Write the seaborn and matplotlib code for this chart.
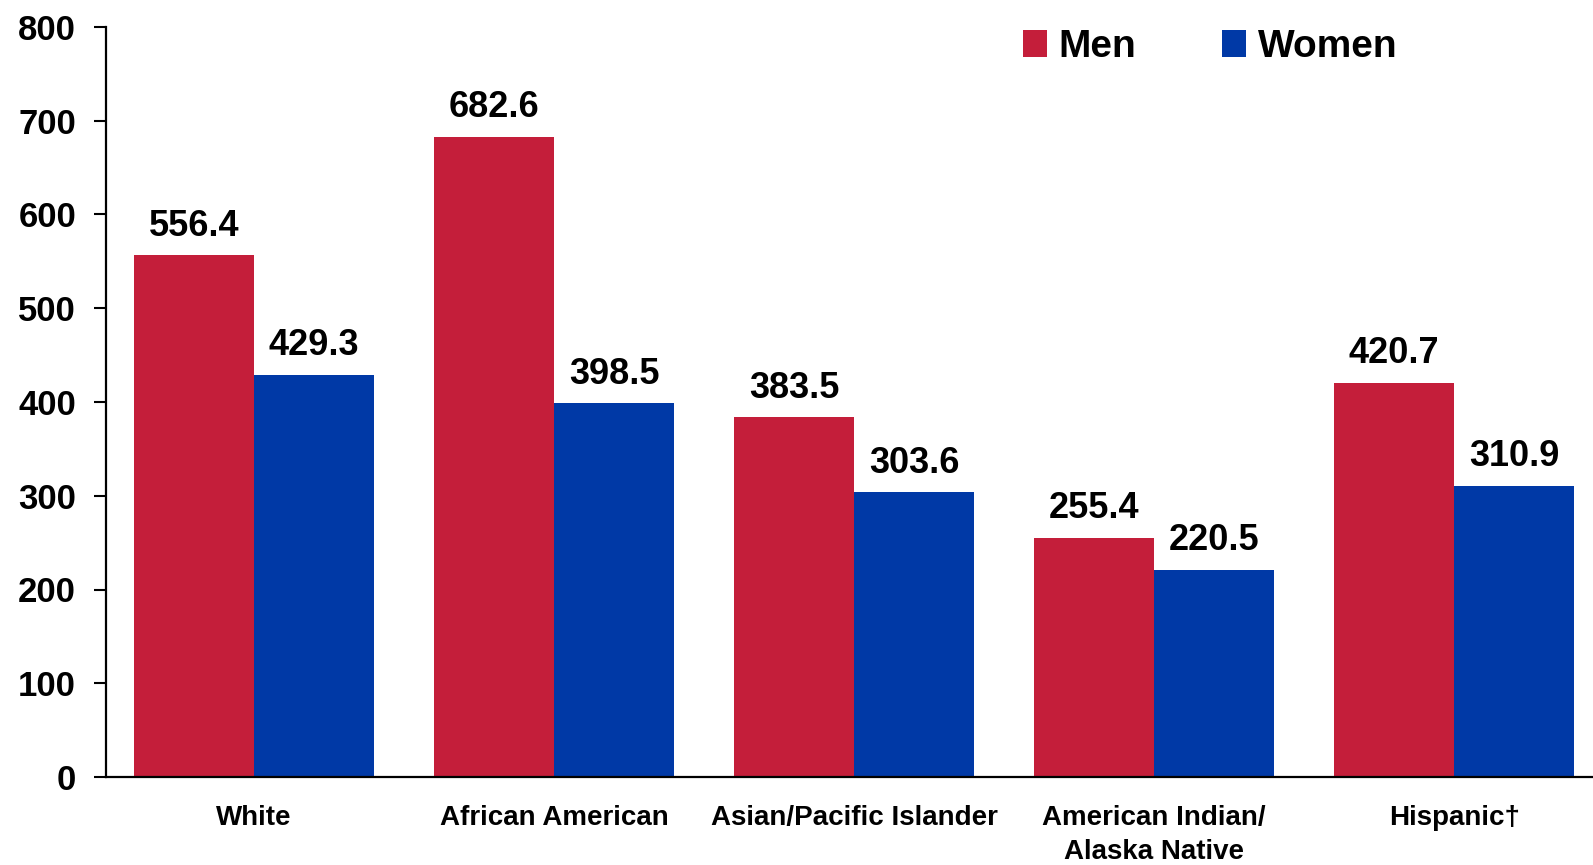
import matplotlib
matplotlib.use("Agg")
import matplotlib.pyplot as plt
import seaborn as sns
import pandas as pd
from matplotlib.patches import Patch

categories = ["White", "African American", "Asian/Pacific Islander",
              "American Indian/\nAlaska Native", "Hispanic\u2020"]
men = [556.4, 682.6, 383.5, 255.4, 420.7]
women = [429.3, 398.5, 303.6, 220.5, 310.9]
series = ["Men", "Women"]
yticks = [0, 100, 200, 300, 400, 500, 600, 700, 800]

RED = "#C41E3A"
BLUE = "#0039A6"

sns.set_theme(style="ticks")
plt.rcParams["font.family"] = ["Liberation Sans", "DejaVu Sans"]
plt.rcParams["font.weight"] = "bold"
plt.rcParams["text.color"] = "black"

df = pd.DataFrame({
    "group": categories * 2,
    "rate": men + women,
    "sex": [series[0]] * len(categories) + [series[1]] * len(categories),
})

fig = plt.figure(figsize=(15.93, 8.65), dpi=100)
ax = fig.add_axes([106 / 1593, 88 / 865, 1 - 106 / 1593, (777 - 27) / 865])

sns.barplot(data=df, x="group", y="rate", hue="sex", order=categories,
            hue_order=series, palette=[RED, BLUE], saturation=1,
            width=0.8, errorbar=None, linewidth=0, ax=ax, legend=False)

for cont in ax.containers:
    ax.bar_label(cont, labels=[f"{b.get_height():.1f}" for b in cont],
                 padding=8.5, fontsize=26, fontweight="bold", color="black")

ax.set_ylim(0, 800)
ax.set_yticks(yticks)
ax.set_xlim(-0.493, 4.463)
ax.set_xlabel("")
ax.set_ylabel("")
sns.despine(ax=ax, top=True, right=True)
for s in ["left", "bottom"]:
    ax.spines[s].set_linewidth(1.6)
    ax.spines[s].set_color("black")
ax.tick_params(axis="y", length=8.6, width=1.5, pad=13, labelsize=25,
               colors="black", direction="out")
ax.tick_params(axis="x", length=0, pad=20, labelsize=20, colors="black")
for t in ax.get_xticklabels() + ax.get_yticklabels():
    t.set_fontweight("bold")
for t in ax.get_xticklabels():
    t.set_linespacing(1.4)

handles = [Patch(facecolor=RED, edgecolor="none"),
           Patch(facecolor=BLUE, edgecolor="none")]
leg = fig.legend(handles, series, loc="upper left",
                 bbox_to_anchor=(1023 / 1593, 1 - 29 / 865),
                 bbox_transform=fig.transFigure, ncol=2, frameon=False,
                 prop={"size": 28, "weight": "bold"}, handlelength=0.62,
                 handleheight=0.7, handletextpad=0.3, columnspacing=2.2,
                 borderpad=0, borderaxespad=0)
for t in leg.get_texts():
    t.set_color("black")

fig.savefig("out.png", dpi=100)
